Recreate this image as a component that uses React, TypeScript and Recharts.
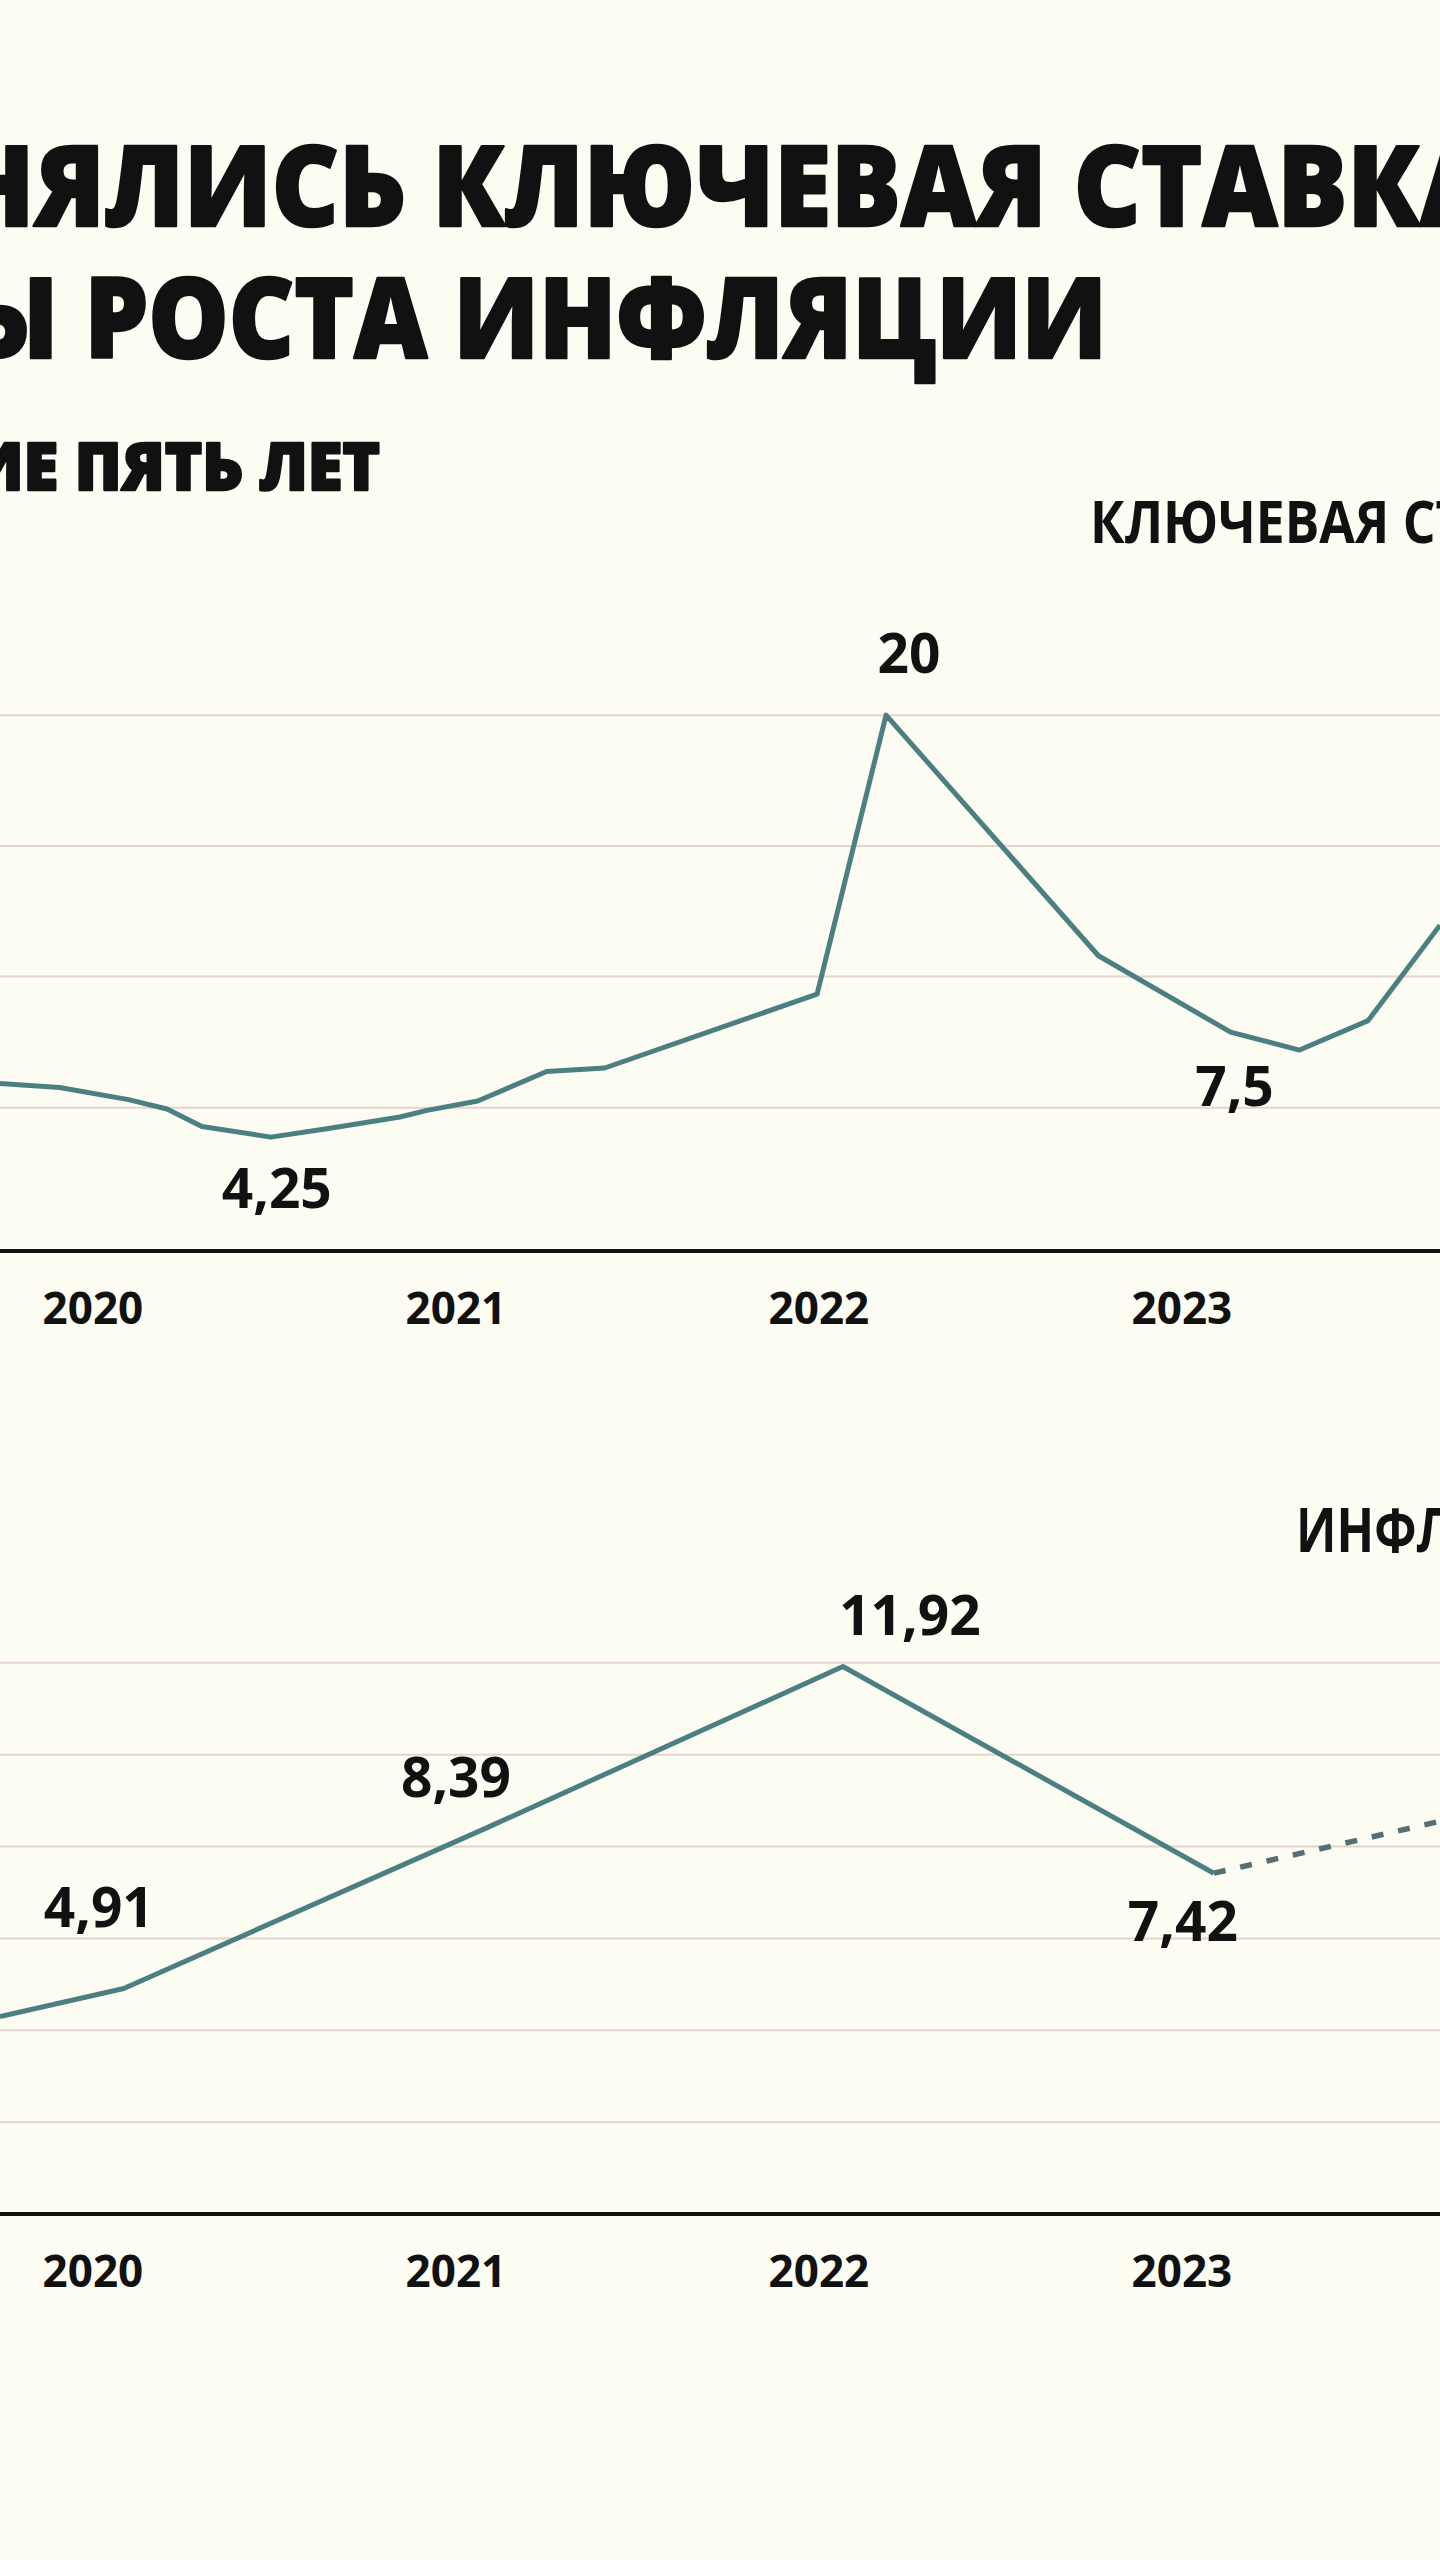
import { LineChart, Line, XAxis, YAxis, CartesianGrid, LabelList } from "recharts";

const FONT = "'Open Sans', 'Noto Sans', sans-serif";
const BG = "#fdfcf2";
const LINE = "#4c7f82";
const GRID = "#e3d4cd";
const INK = "#111111";

// visible part of the time axis (fractional years) and the year labels
const xRange: [number, number] = [2019.744, 2023.711];
const yearTicks = [2020, 2021, 2022, 2023];

// key rate, %
const rateDates = [
  2019.744, 2019.908, 2020.098, 2020.204, 2020.3, 2020.49, 2020.64, 2020.846, 2020.92, 2021.06,
  2021.25, 2021.41, 2021.995, 2022.185, 2022.77, 2023.134, 2023.324, 2023.513, 2023.711,
];
const rateValues = [
  6.25, 6.1, 5.65, 5.3, 4.65, 4.25, 4.55, 5.0, 5.25, 5.6,
  6.7, 6.83, 9.59, 20, 11.02, 8.17, 7.5, 8.6, 12.16,
];
const rateGrid = [5.35, 10.25, 15.12, 20];

// inflation, % (fact) and the dashed continuation
const inflationDates = [2019.744, 2020.085, 2021.08, 2022.066, 2023.088];
const inflationValues = [4.3, 4.91, 8.39, 11.92, 7.42];
const forecastDates = [2023.088, 2023.711];
const forecastValues = [7.42, 8.55];
const inflationGrid = [2, 4, 6, 8, 10, 12];

const rateData = rateDates.map((t, i) => ({ t, rate: rateValues[i] }));

const inflationData = [
  ...inflationDates.map((t, i) => ({
    t,
    fact: inflationValues[i] as number | undefined,
    forecast: forecastDates.indexOf(t) >= 0 ? forecastValues[forecastDates.indexOf(t)] : undefined,
  })),
  ...forecastDates
    .filter((t) => inflationDates.indexOf(t) < 0)
    .map((t) => ({ t, fact: undefined, forecast: forecastValues[forecastDates.indexOf(t)] })),
];

const fmt = (v: number) => String(v).replace(".", ",");

function YearTick({ x, y, payload }: any) {
  return (
    <text x={x} y={y + 73} textAnchor="middle" fontSize={44} fontWeight={700} fill={INK} fontFamily={FONT}>
      {payload.value}
    </text>
  );
}

function pointLabel(offsets: Record<string, [number, number]>) {
  return (props: any) => {
    if (props.value == null) return null;
    const off = offsets[String(props.value)];
    if (!off) return null;
    return (
      <text
        x={props.x + off[0]}
        y={props.y + off[1]}
        textAnchor="middle"
        fontSize={55}
        fontWeight={700}
        fill={INK}
        fontFamily={FONT}
      >
        {fmt(props.value)}
      </text>
    );
  };
}

const rateLabels: Record<string, [number, number]> = {
  "4.25": [6, 71],
  "20": [23, -42],
  "7.5": [-65, 56],
};

const inflationLabels: Record<string, [number, number]> = {
  "4.91": [-25, -61],
  "8.39": [-29, -32],
  "11.92": [67, -32],
  "7.42": [-31, 68],
};

function Heading({ x, y, w, size, children }: any) {
  return (
    <text
      x={x}
      y={y}
      textLength={w}
      lengthAdjust="spacingAndGlyphs"
      fontSize={size}
      fontWeight={800}
      fill={INK}
      stroke={INK}
      strokeWidth={2.5}
      strokeLinejoin="round"
      fontFamily={FONT}
    >
      {children}
    </text>
  );
}

export default function App() {
  return (
    <div
      style={{
        position: "absolute",
        top: 0,
        left: 0,
        width: 1440,
        height: 2560,
        overflow: "hidden",
        background: BG,
      }}
    >
      <div style={{ position: "absolute", top: 580, left: 0 }}>
        <LineChart width={1440} height={771} data={rateData} margin={{ top: 28, right: 0, bottom: 10, left: 0 }}>
          <CartesianGrid vertical={false} horizontalValues={rateGrid} stroke={GRID} strokeWidth={2} />
          <XAxis
            type="number"
            dataKey="t"
            domain={xRange}
            allowDataOverflow
            ticks={yearTicks}
            tick={<YearTick />}
            tickLine={false}
            tickSize={0}
            tickMargin={0}
            height={90}
            axisLine={{ stroke: INK, strokeWidth: 4 }}
          />
          <YAxis hide domain={[0, 24]} ticks={rateGrid} allowDataOverflow />
          <Line
            type="linear"
            dataKey="rate"
            stroke={LINE}
            strokeWidth={5}
            strokeLinejoin="round"
            dot={false}
            isAnimationActive={false}
          >
            <LabelList dataKey="rate" content={pointLabel(rateLabels)} />
          </Line>
        </LineChart>
      </div>

      <div style={{ position: "absolute", top: 1520, left: 0 }}>
        <LineChart width={1440} height={794} data={inflationData} margin={{ top: 28, right: 0, bottom: 10, left: 0 }}>
          <CartesianGrid vertical={false} horizontalValues={inflationGrid} stroke={GRID} strokeWidth={2} />
          <XAxis
            type="number"
            dataKey="t"
            domain={xRange}
            allowDataOverflow
            ticks={yearTicks}
            tick={<YearTick />}
            tickLine={false}
            tickSize={0}
            tickMargin={0}
            height={90}
            axisLine={{ stroke: INK, strokeWidth: 4 }}
          />
          <YAxis hide domain={[0, 14.5]} ticks={inflationGrid} allowDataOverflow />
          <Line
            type="linear"
            dataKey="forecast"
            stroke="#566f75"
            strokeWidth={5.5}
            strokeDasharray="12 15"
            dot={false}
            isAnimationActive={false}
          />
          <Line
            type="linear"
            dataKey="fact"
            stroke={LINE}
            strokeWidth={5}
            strokeLinejoin="round"
            dot={false}
            isAnimationActive={false}
          >
            <LabelList dataKey="fact" content={pointLabel(inflationLabels)} />
          </Line>
        </LineChart>
      </div>

      <svg
        width={1440}
        height={2560}
        style={{ position: "absolute", top: 0, left: 0, pointerEvents: "none" }}
      >
        <Heading x={-45} y={226} w={1540} size={112}>НЯЛИСЬ КЛЮЧЕВАЯ СТАВКА</Heading>
        <Heading x={-35} y={358} w={1142} size={112}>Ы РОСТА ИНФЛЯЦИИ</Heading>
        <Heading x={-30} y={490} w={410} size={66}>ИЕ ПЯТЬ ЛЕТ</Heading>
        <text
          transform="translate(1090,543) scale(0.86,1)"
          fontSize={60}
          fontWeight={700}
          fill={INK}
          fontFamily={FONT}
        >
          КЛЮЧЕВАЯ СТАВКА, %
        </text>
        <text
          transform="translate(1296,1552) scale(0.82,1)"
          fontSize={60}
          fontWeight={700}
          fill={INK}
          fontFamily={FONT}
        >
          ИНФЛЯЦИЯ, %
        </text>
      </svg>
    </div>
  );
}
